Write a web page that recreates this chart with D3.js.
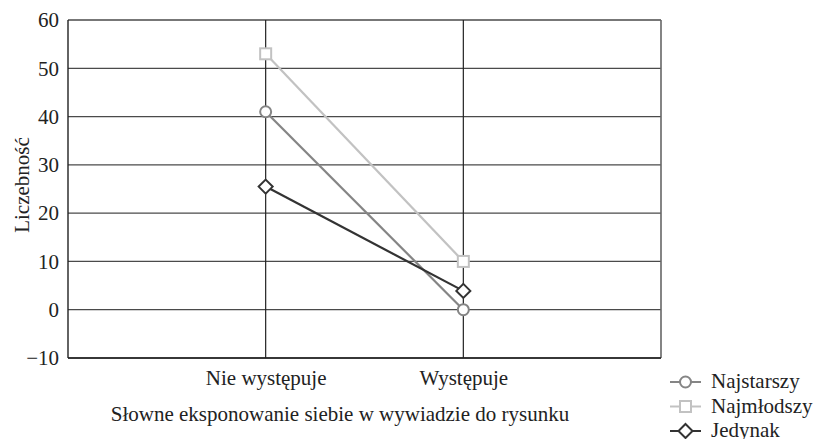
<!DOCTYPE html>
<html><head><meta charset="utf-8">
<script src="https://cdn.jsdelivr.net/npm/d3@7"></script>
</head><body style="margin:0"><svg id="c" width="817" height="439"></svg>
<script>
const categories = ["Nie występuje", "Występuje"];
const seriesNames = ["Najstarszy", "Najmłodszy", "Jedynak"];
const najstarszy = [41, 0];
const najmlodszy = [53, 10];
const jedynak = [25.5, 3.9];
const yTicks = [-10, 0, 10, 20, 30, 40, 50, 60];
const yTitle = "Liczebność";
const xTitle = "Słowne eksponowanie siebie w wywiadzie do rysunku";

const FONT = '"Liberation Serif"';
const fs = "21px";
const svg = d3.select("#c");
const L = 68, R = 661, T = 20, B = 358;
const x = d3.scaleLinear().domain([0, categories.length + 1]).range([L, R]);
const y = d3.scaleLinear().domain([-10, 60]).range([B, T]);
const styleText = sel => sel.style("font-family", FONT).style("font-size", fs).style("fill", "#222");

svg.append("g").selectAll("line").data(yTicks).join("line")
  .attr("x1", L).attr("x2", R).attr("y1", d => y(d)).attr("y2", d => y(d))
  .attr("stroke", "#4a4a4a").attr("stroke-width", 1.3);
svg.append("g").selectAll("line").data(categories).join("line")
  .attr("x1", (d, i) => x(i + 1)).attr("x2", (d, i) => x(i + 1))
  .attr("y1", T).attr("y2", B).attr("stroke", "#222").attr("stroke-width", 1.2);
svg.append("line").attr("x1", L).attr("x2", L).attr("y1", T).attr("y2", B).attr("stroke", "#222").attr("stroke-width", 1.4);
svg.append("line").attr("x1", R).attr("x2", R).attr("y1", T).attr("y2", B).attr("stroke", "#666").attr("stroke-width", 1.6);
svg.append("line").attr("x1", L).attr("x2", R).attr("y1", B).attr("y2", B).attr("stroke", "#222").attr("stroke-width", 1.4);

const yAxis = d3.axisLeft(y).tickValues(yTicks).tickSize(0).tickPadding(9)
  .tickFormat(d => d < 0 ? "\u2212" + Math.abs(d) : d);
const ga = svg.append("g").attr("transform", `translate(${L},0)`).call(yAxis);
ga.attr("font-family", null).attr("font-size", null);
ga.select(".domain").remove();
styleText(ga.selectAll("text"));

const xAxis = d3.axisBottom(x).tickValues(categories.map((c, i) => i + 1)).tickSize(0).tickPadding(12)
  .tickFormat(d => categories[d - 1]);
const gx = svg.append("g").attr("transform", `translate(0,${B})`).call(xAxis);
gx.attr("font-family", null).attr("font-size", null);
gx.select(".domain").remove();
styleText(gx.selectAll("text"));

styleText(svg.append("text").attr("transform", `translate(29,185) rotate(-90)`)
  .attr("text-anchor", "middle").text(yTitle));
styleText(svg.append("text").attr("x", 340).attr("y", 421).attr("text-anchor", "middle").text(xTitle));

const series = [
  {name: seriesNames[0], values: najstarszy, color: "#858585", marker: "circle"},
  {name: seriesNames[1], values: najmlodszy, color: "#c2c2c2", marker: "square"},
  {name: seriesNames[2], values: jedynak, color: "#333333", marker: "diamond"}
];
function drawMarker(g, type, cx, cy, color) {
  let m;
  if (type === "circle") m = g.append("circle").attr("cx", cx).attr("cy", cy).attr("r", 5.5);
  else if (type === "square") m = g.append("rect").attr("x", cx - 5.5).attr("y", cy - 5.5).attr("width", 11).attr("height", 11);
  else m = g.append("path").attr("d", `M${cx},${cy - 7}L${cx + 7},${cy}L${cx},${cy + 7}L${cx - 7},${cy}Z`);
  m.attr("fill", "#fff").attr("stroke", color).attr("stroke-width", 2);
}
const line = d3.line().x((d, i) => x(i + 1)).y(d => y(d));
series.forEach(s => {
  svg.append("path").datum(s.values).attr("d", line).attr("fill", "none")
    .attr("stroke", s.color).attr("stroke-width", 2.2);
});
series.forEach(s => {
  const g = svg.append("g");
  s.values.forEach((v, i) => drawMarker(g, s.marker, x(i + 1), y(v), s.color));
});

series.forEach((s, i) => {
  const ly = 382 + i * 24.5;
  const g = svg.append("g");
  g.append("line").attr("x1", 670).attr("x2", 701).attr("y1", ly).attr("y2", ly)
    .attr("stroke", s.color).attr("stroke-width", 2);
  drawMarker(g, s.marker, 685.5, ly, s.color);
  styleText(g.append("text").attr("x", 711).attr("y", ly + 6).text(s.name));
});
</script></body></html>
